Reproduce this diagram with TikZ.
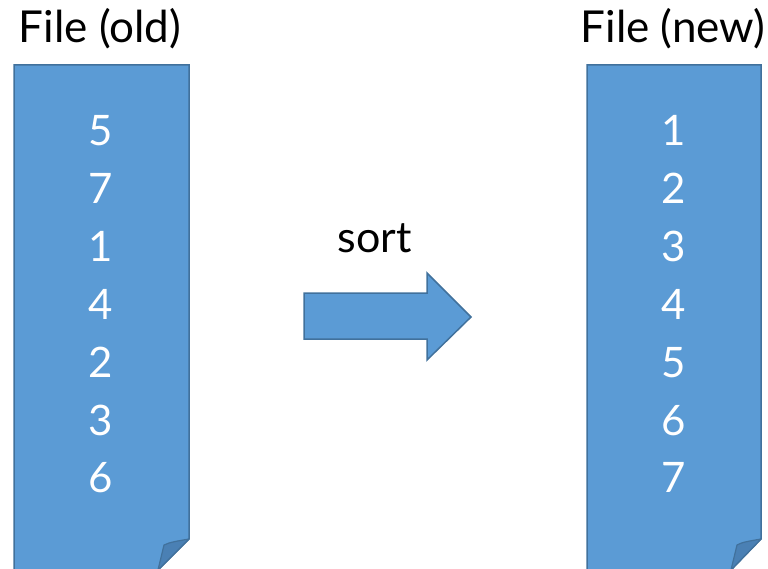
\documentclass[tikz,border=0pt]{standalone}
\usepackage{fontspec}
\setmainfont{Lato}
\definecolor{docfill}{HTML}{5B9BD5}
\definecolor{docline}{HTML}{41719C}
\definecolor{foldfill}{HTML}{4A80B4}
\begin{document}
\begin{tikzpicture}[x=1pt,y=-1pt,
  doc/.style={fill=docfill,draw=docline,line width=1.5pt,line join=miter},
  fold/.style={fill=foldfill,draw=docline,line width=1.2pt,line join=round},
  title/.style={font=\fontsize{44}{46}\selectfont,text=black,anchor=base,inner sep=0pt},
  num/.style={font=\fontsize{42}{44}\selectfont,text=white,anchor=base,inner sep=0pt},
  label/.style={font=\fontsize{43}{45}\selectfont,text=black,anchor=base,inner sep=0pt}]
\useasboundingbox (0,0) rectangle (768,569);
% left document
\draw[doc] (14,65) -- (189,65) -- (189,539) -- (158,570) -- (14,570) -- cycle;
\draw[fold] (189,539) .. controls (178,541) and (170,542) .. (164,545) -- (158,570) -- cycle;
% right document
\draw[doc] (587,65) -- (761,65) -- (761,539) -- (731,570) -- (587,570) -- cycle;
\draw[fold] (761,539) .. controls (750,541) and (742,542) .. (737,545) -- (731,570) -- cycle;
% titles
\node[title] (told) at (100,43) {File (old)};
\node[title] (tnew) at (673,43) {File (new)};
% numbers
\foreach \v [count=\i] in {5,7,1,4,2,3,6}
  \node[num] (o\i) at (101,146+57.8*\i-57.8) {\v};
\foreach \v [count=\i] in {1,2,3,4,5,6,7}
  \node[num] (n\i) at (674,146+57.8*\i-57.8) {\v};
% arrow
\draw[doc,line width=1.5pt] (304,293) -- (427,293) -- (427,273) -- (471,317) -- (427,360) -- (427,339) -- (304,339) -- cycle;
\node[label] (sort) at (375,253) {sort};
\end{tikzpicture}
\end{document}
